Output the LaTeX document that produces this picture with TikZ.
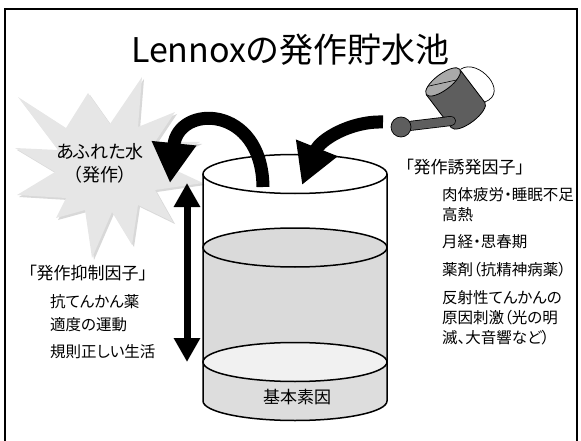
\documentclass[tikz,border=0pt]{standalone}
\usepackage{fontspec}
\setmainfont[RawFeature=+palt]{Noto Sans CJK JP}
\usetikzlibrary{arrows.meta}

\definecolor{burst}{HTML}{E6E6E6}
\definecolor{water}{HTML}{DADADA}
\definecolor{sediment}{HTML}{DDDDDD}
\definecolor{surface}{HTML}{F1F1F1}
\definecolor{can}{HTML}{5E5E5E}
\definecolor{canrim}{HTML}{A9A9A9}

% outline of the splash
\newcommand{\splash}{(18,97) -- (66,128) -- (88,93) -- (110,124) -- (142,77) -- (138,127)
  -- (175,112) -- (155,142) -- (200,142) -- (160,163) -- (203,183) -- (155,190)
  -- (173,222) -- (138,205) -- (132,245) -- (112,212) -- (92,258) -- (85,210)
  -- (56,218) -- (66,198) -- (17,195) -- (55,172) -- (15,148) -- (58,150) -- cycle}

\tikzset{
  title/.style={font=\fontsize{34}{40}\selectfont},
  heading/.style={font=\fontsize{17}{20}\selectfont, anchor=west, inner sep=0pt},
  item/.style={font=\fontsize{15.5}{20}\selectfont, anchor=west, inner sep=0pt, align=left},
  flow/.style={line width=13pt, -{Triangle[width=42pt,length=40pt]}},
  level/.style={line width=7pt, {Triangle[width=25pt,length=24pt]}-{Triangle[width=25pt,length=24pt]}},
  rim/.style={draw=black, line width=1.5pt},
}

\begin{document}
\begin{tikzpicture}[x=1pt, y=-1pt]

    \useasboundingbox (0,0) rectangle (581,441);

    % frame
    \draw[line width=2pt] (4.5,9.5) rectangle (576.5,447);

    % title
    \node[title] (head) at (290,50) {Lennoxの発作貯水池};

    % splash
    \fill[gray!60, opacity=0.5, shift={(2,2)}] \splash;
    \fill[burst] \splash;
    \node[font=\fontsize{18}{23}\selectfont, align=center] (overflow) at (100,163) {あふれた水\\（発作）};

    % sediment layer
    \fill[sediment] (203,362) rectangle (387,401);
    \fill[sediment] (295,401) ellipse [x radius=92pt, y radius=19.5pt];
    \node[font=\fontsize{17}{20}\selectfont] (base) at (297,397) {基本素因};

    % water
    \fill[water] (203,247.5) rectangle (387,362);
    \filldraw[fill=water, rim] (295,247.5) ellipse [x radius=92pt, y radius=19.5pt];
    \filldraw[fill=surface, rim] (295,362) ellipse [x radius=92pt, y radius=19.5pt];

    % walls and rim
    \draw[rim] (203,174) -- (203,401) arc[start angle=180, end angle=360, x radius=92pt, y radius=19.5pt] -- (387,174);
    \draw[rim] (295,174) ellipse [x radius=92pt, y radius=19.5pt];

    % watering can
    \coordinate (cant) at (443,82);
    \coordinate (canb) at (468,115);
    \draw[line width=0.7pt] (461,69) .. controls (478,58) and (510,92) .. (485,102);
    \filldraw[fill=can, line width=0.8pt, rotate around={37:(canb)}] (canb) ellipse [x radius=21pt, y radius=8pt];
    \fill[can] (459.7,69.3) -- (484.7,102.3) -- (451.3,127.7) -- (426.3,94.7) -- cycle;
    \draw[line width=0.8pt] (459.7,69.3) -- (484.7,102.3) (451.3,127.7) -- (426.3,94.7);
    \filldraw[fill=canrim, line width=0.8pt, rotate around={37:(cant)}] (cant) ellipse [x radius=21pt, y radius=8pt];
    \begin{scope}
      \clip[rotate around={37:(cant)}] (cant) ellipse [x radius=21pt, y radius=8pt];
      \draw[line width=0.6pt] (420,88) -- (470,77);
    \end{scope}
    \coordinate (nozzle) at (401,127);
    \draw[line width=10pt, line cap=round] (nozzle) -- (451,121);
    \draw[can, line width=8.4pt, line cap=round] (nozzle) -- (451,121);
    \filldraw[fill=can, line width=0.7pt] (nozzle) circle[radius=10pt];

    % flows in and out
    \coordinate (spill) at (263,187);
    \coordinate (spilltip) at (170,183);
    \draw[flow] (spill) .. controls (262,104) and (178,104) .. (spilltip);
    \coordinate (pour) at (383,122);
    \coordinate (pourtip) at (302,185);
    \draw[flow] (pour) .. controls (350,121) and (320,140) .. (pourtip);

    % rise and fall of the level
    \coordinate (hi) at (187,183);
    \coordinate (lo) at (187,362);
    \draw[level] (hi) -- (lo);

    % triggering factors
    \node[heading] (trig) at (405,167) {「発作誘発因子」};
    \foreach \t/\y [count=\i] in {肉体疲労・睡眠不足/195, 高熱/215, 月経・思春期/242, 薬剤（抗精神病薬）/270}
      \node[item] (trig\i) at (442,\y) {\t};
    \node[item] (trig5) at (442,318) {反射性てんかんの\\原因刺激（光の明\\滅、大音響など）};

    % inhibiting factors
    \node[heading] (inhib) at (28,273) {「発作抑制因子」};
    \foreach \t/\y [count=\i] in {抗てんかん薬/302, 適度の運動/325, 規則正しい生活/352}
      \node[item] (inhib\i) at (50,\y) {\t};

\end{tikzpicture}
\end{document}
